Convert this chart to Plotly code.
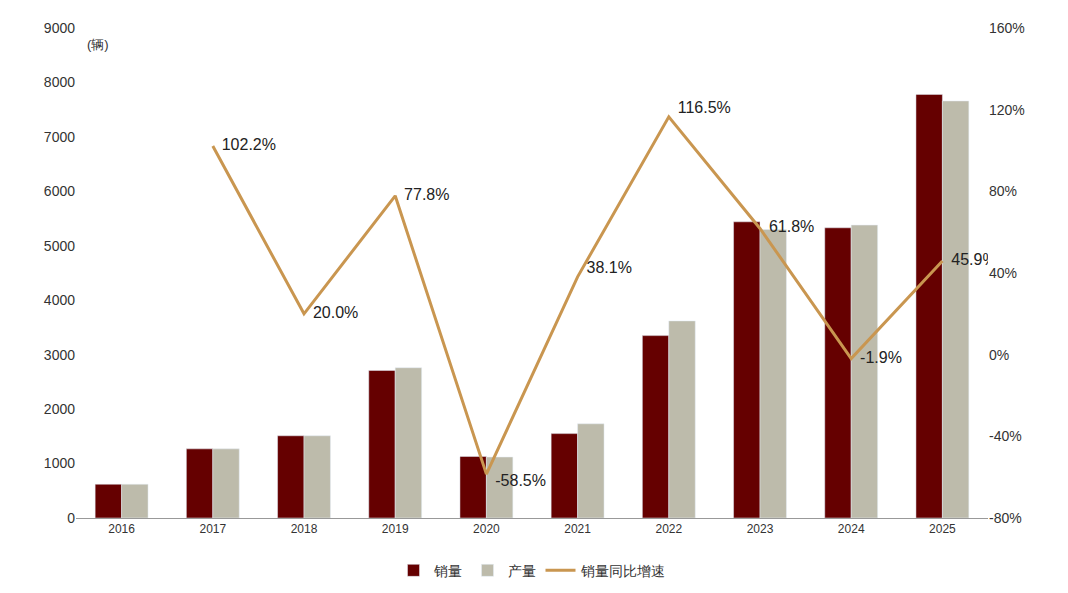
import plotly.graph_objects as go

years = ["2016","2017","2018","2019","2020","2021","2022","2023","2024","2025"]
sales = [620,1270,1510,2710,1130,1550,3350,5440,5330,7780]
production = [620,1270,1510,2760,1120,1730,3620,5300,5380,7660]
growth = [None,102.2,20.0,77.8,-58.5,38.1,116.5,61.8,-1.9,45.9]
growth_labels = ["" if g is None else f"  {g:.1f}%" for g in growth]
positions = ["middle right","middle right","middle right","middle right","bottom right",
             "top right","top right","middle right","middle right","middle right"]
y2_ticks = [-80,-40,0,40,80,120,160]
y2_text = [f"{v}%" for v in y2_ticks]

fig = go.Figure()
fig.add_bar(x=years, y=sales, name="销量", marker_color="#650000")
fig.add_bar(x=years, y=production, name="产量", marker_color="#bdbbab")
fig.add_scatter(x=years, y=growth, name="销量同比增速", yaxis="y2", mode="lines+text",
                line=dict(color="#c99650", width=3), text=growth_labels,
                textposition=positions, textfont=dict(size=16, color="#222"))
fig.update_layout(
    width=1068, height=593, plot_bgcolor="white", paper_bgcolor="white",
    margin=dict(l=68, r=88, t=12, b=83),
    font=dict(family="Liberation Sans, Arial", size=14, color="#333"),
    barmode="group", bargap=0.42, bargroupgap=0,
    xaxis=dict(showline=True, linecolor="#999", tickfont=dict(size=12), ticks=""),
    yaxis=dict(range=[0,9000], dtick=1000, showgrid=False, showline=False, tickfont=dict(size=14)),
    yaxis2=dict(range=[-80,160], tickvals=y2_ticks, ticktext=y2_text, overlaying="y",
                side="right", showgrid=False, zeroline=False, tickfont=dict(size=14)),
    legend=dict(orientation="h", x=0.5, xanchor="center", y=-0.075, yanchor="top",
                font=dict(size=14)),
    annotations=[dict(text="(辆)", xref="paper", yref="paper", x=0.01, y=0.985,
                      xanchor="left", yanchor="top", showarrow=False, font=dict(size=13))],
)
fig.write_html("out.html")
